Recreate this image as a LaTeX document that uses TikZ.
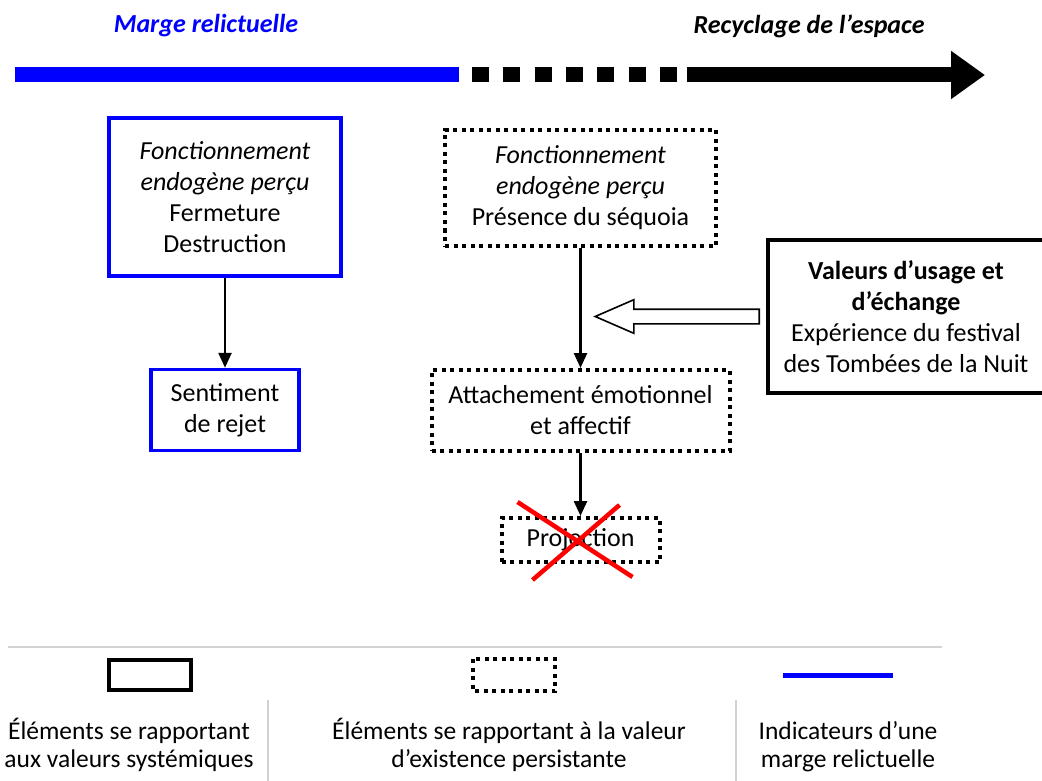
\documentclass[tikz,border=0pt]{standalone}
\usepackage{fontspec}
\setmainfont{Carlito}
\usepackage{tikz}
\usepackage{xcolor}
\usetikzlibrary{arrows.meta, calc, shapes.arrows}

\tikzset{
  txt/.style={align=center, inner sep=0pt, font=\fontsize{26}{31}\selectfont},
  bluebox/.style={txt, draw=blue, line width=3.5pt},
  dotbox/.style={txt, draw, line width=4pt, dash pattern=on 4pt off 4.5pt},
  valbox/.style={txt, draw, line width=4pt},
  flow/.style={line width=2.5pt, -{Triangle[length=15pt,width=13pt]}},
  creux/.style={single arrow, draw, line width=1.6pt, shape border rotate=180,
    minimum height=164pt, inner xsep=0pt, inner ysep=6.5pt,
    single arrow head extend=9.5pt, single arrow tip angle=47},
  croix/.style={red, line width=4.5pt},
  titre/.style={inner sep=0pt, font=\fontsize{26}{31}\selectfont\bfseries\itshape},
  legende/.style={align=center, inner sep=0pt, font=\fontsize{25.5}{28}\selectfont},
  sep/.style={gray!35, line width=1.5pt}
}

\begin{document}
\begin{tikzpicture}[x=1pt, y=-1pt]
  \useasboundingbox (0,0) rectangle (1042,781);
  % Titles
  \node[titre, blue] (marge) at (206,26) {Marge relictuelle};
  \node[titre] (recyclage) at (809,26) {Recyclage de l’espace};
  % Top bar
  \coordinate (bleuD) at (15,75);
  \coordinate (bleuF) at (459,75);
  \coordinate (tiretD) at (472,75);
  \coordinate (tiretF) at (677,75);
  \coordinate (noirD) at (687,75);
  \coordinate (pointe) at (985,75);
  \draw[blue, line width=15pt] (bleuD) -- (bleuF);
  \draw[line width=15pt, dash pattern=on 17pt off 14.3pt] (tiretD) -- (tiretF);
  \draw[line width=15pt, -{Triangle[length=34pt,width=46pt]}] (noirD) -- (pointe);

  % Left column
  \node[bluebox, minimum width=232, minimum height=158] (fonc1) at (225,197)
    {\textit{Fonctionnement}\\\textit{endogène perçu}\\Fermeture\\Destruction};
  \node[bluebox, minimum width=148, minimum height=81] (rejet) at (225,410)
    {Sentiment\\de rejet};
  \draw[flow] (fonc1) -- (rejet);

  % Middle column
  \node[dotbox, minimum width=271, minimum height=116] (fonc2) at (580.5,188)
    {\textit{Fonctionnement}\\\textit{endogène perçu}\\Présence du séquoia};
  \node[dotbox, minimum width=298, minimum height=81] (attache) at (580.5,410.5)
    {Attachement émotionnel\\et affectif};
  \node[dotbox, minimum width=158, minimum height=44] (proj) at (580.5,540)
    {Projection};
  \draw[flow] (fonc2) -- (attache);
  \draw[flow] (attache) -- (proj);
  \draw[croix] ($(proj)+(-63,-38)$) -- ($(proj)+(52,37)$);
  \draw[croix] ($(proj)+(39,-35)$) -- ($(proj)+(-48,40)$);

  % Right box
  \node[valbox, minimum width=276, minimum height=153] (valeurs) at (906,316.5)
    {\textbf{Valeurs d’usage et}\\\textbf{d’échange}\\Expérience du festival\\des Tombées de la Nuit};
  \node[creux, anchor=tail] (apport) at ([xshift=-6pt]valeurs.west) {};

  % Legend
  \draw[sep] (8,647) -- (942,647);
  \draw[sep] (268,700) -- (268,781);
  \draw[sep] (736,700) -- (736,781);
  \draw[line width=4pt] (109,660) rectangle (191,690);
  \draw[line width=4pt, dash pattern=on 4pt off 4.5pt] (473,659) rectangle (555,691);
  \draw[blue, line width=5pt] (783,675) -- (893,675);
  \node[legende] (leg1) at (129,745) {Éléments se rapportant\\aux valeurs systémiques};
  \node[legende] (leg2) at (509,745) {Éléments se rapportant à la valeur\\d’existence persistante};
  \node[legende] (leg3) at (848,747) {Indicateurs d’une\\marge relictuelle};
\end{tikzpicture}
\end{document}
